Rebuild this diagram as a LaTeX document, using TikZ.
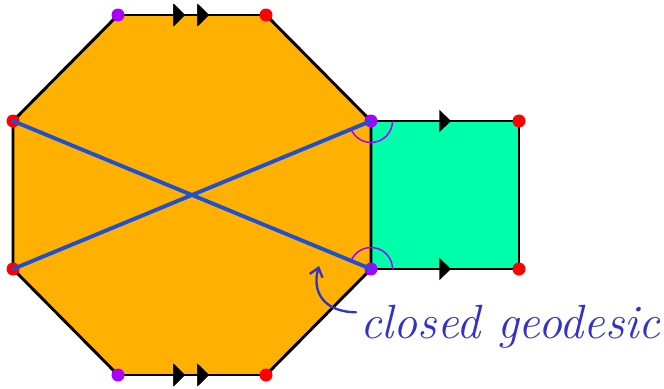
\documentclass[tikz,border=0pt]{standalone}
\usepackage{tikz}
\usetikzlibrary{arrows.meta,decorations.markings}

\definecolor{octfill}{RGB}{255,176,0}
\definecolor{sqfill}{RGB}{0,255,170}
\definecolor{geoblue}{RGB}{30,80,210}
\definecolor{vpurple}{RGB}{170,0,255}
\definecolor{inkblue}{RGB}{50,50,200}

\tikzset{
  edge/.style={line width=2.5pt,line join=round},
  fwd/.style={postaction={decorate},decoration={markings,
    mark=at position #1 with {\arrow{Triangle[length=3.5mm,width=6.6mm]}}}},
  geodesic/.style={line width=3.3pt,geoblue,line cap=round},
  reddot/.style={fill=red},
  purpledot/.style={fill=vpurple},
  angarc/.style={vpurple,line width=1.3pt}
}

\begin{document}
\begin{tikzpicture}[x=0.03cm,y=-0.03cm]

\useasboundingbox (0,0) rectangle (664,389);

% Vertices
\coordinate (A) at (118,15);
\coordinate (B) at (266,15);
\coordinate (C) at (371,121);
\coordinate (D) at (371,269);
\coordinate (E) at (266,375);
\coordinate (F) at (118,375);
\coordinate (G) at (13,269);
\coordinate (H) at (13,121);
\coordinate (P) at (519,121);
\coordinate (Q) at (519,269);

% Faces
\fill[octfill] (A)--(B)--(C)--(D)--(E)--(F)--(G)--(H)--cycle;
\fill[sqfill] (C)--(P)--(Q)--(D)--cycle;

% Edges
\draw[edge] (B)--(C)--(D)--(E);
\draw[edge] (F)--(G)--(H)--(A);
\draw[edge,fwd=0.453,fwd=0.615] (A)--(B);
\draw[edge,fwd=0.453,fwd=0.615] (F)--(E);
\draw[edge,fwd=0.54] (C)--(P);
\draw[edge,fwd=0.54] (D)--(Q);
\draw[edge] (P)--(Q);

% Points
\foreach \v in {B,E,G,H,P,Q}
  \fill[reddot] (\v) circle (6.5);
\foreach \v in {A,C,D,F}
  \fill[purpledot] (\v) circle (6.5);

% Geodesic
\draw[geodesic] (H)--(D);
\draw[geodesic] (G)--(C);

% Angles
\draw[angarc] ([shift={(0:21.5)}]C) arc[start angle=0,end angle=160,radius=21.5];
\draw[angarc] ([shift={(200:21.5)}]D) arc[start angle=200,end angle=360,radius=21.5];

% Label
\node[inkblue,anchor=base west,inner sep=0pt,font=\fontsize{41}{46}\selectfont\itshape]
  (lbl) at (360,338) {closed geodesic};
\coordinate (tip) at (319,266);
\draw[inkblue,line width=2pt,line cap=round,-{Straight Barb[length=2.5mm,width=4mm]}]
  ([shift={(-4,-14)}]lbl.west) .. controls (322,312) and (312,290) .. (tip);

\end{tikzpicture}
\end{document}
